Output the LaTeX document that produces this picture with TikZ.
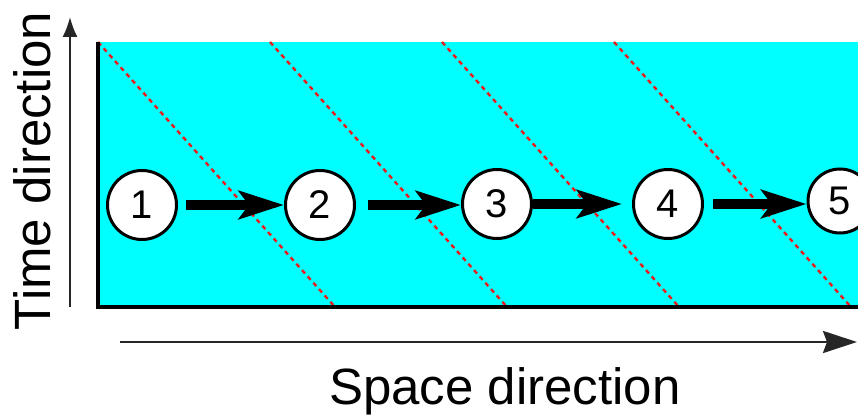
\documentclass[tikz,border=0pt]{standalone}
\usepackage{fontspec}
\setmainfont{Liberation Sans}
\usetikzlibrary{arrows.meta}
\definecolor{bgcyan}{RGB}{0,255,255}
\definecolor{wavered}{RGB}{230,30,30}
\tikzset{
  state/.style={circle,draw=black,fill=white,line width=3pt,minimum size=69pt,inner sep=0pt,font=\fontsize{40}{40}\selectfont},
  bigarrow/.style={line width=10pt,-{Stealth[length=45pt,width=28pt,inset=10pt]}},
  wave/.style={wavered,line width=2.4pt,dash pattern=on 4.5pt off 4pt},
  axislabel/.style={font=\fontsize{51}{51}\selectfont,inner sep=0pt},
}
\begin{document}
\begin{tikzpicture}[x=1pt,y=-1pt]
\useasboundingbox (0,0) rectangle (858,417);
\clip (0,0) rectangle (858,417);
% domain
\fill[bgcyan] (98,42) rectangle (860,307);
\foreach \k in {0,1,2,3}{
  \draw[wave] (98+172*\k,42) -- (335+172*\k,307);
}
\draw[line width=4.5pt,line join=miter] (98,42) -- (98,307) -- (860,307);
% nodes
\node[state] (c1) at (142,205) {1};
\node[state] (c2) at (320,205) {2};
\node[state] (c3) at (497,204) {3};
\node[state] (c4) at (668,204) {4};
\node[state,minimum size=64pt] (c5) at (840,201) {5};
\draw[bigarrow,shorten <=8pt] (c1.east) -- (c2.west);
\draw[bigarrow,shorten <=12pt] (c2.east) -- (c3.west |- c2.east);
\draw[bigarrow,shorten >=10pt] (c3.east) -- (c4.west);
\draw[bigarrow,shorten <=9pt] (c4.east) -- (c5.west |- c4.east);
% axes
\coordinate (tb) at (70,307);
\coordinate (tt) at (70,17);
\draw[line width=2pt,black!85,-{Latex[length=20pt,width=15pt]}] (tb) -- (tt);
\coordinate (sb) at (120,342);
\coordinate (st) at (857,342);
\draw[line width=2.6pt,black!85,-{Stealth[length=34pt,width=22pt,inset=4pt]}] (sb) -- (st);
\node[axislabel,rotate=90] (tl) at (32,171) {Time direction};
\node[axislabel,anchor=base] (sl) at (505,404) {Space direction};
\end{tikzpicture}
\end{document}
